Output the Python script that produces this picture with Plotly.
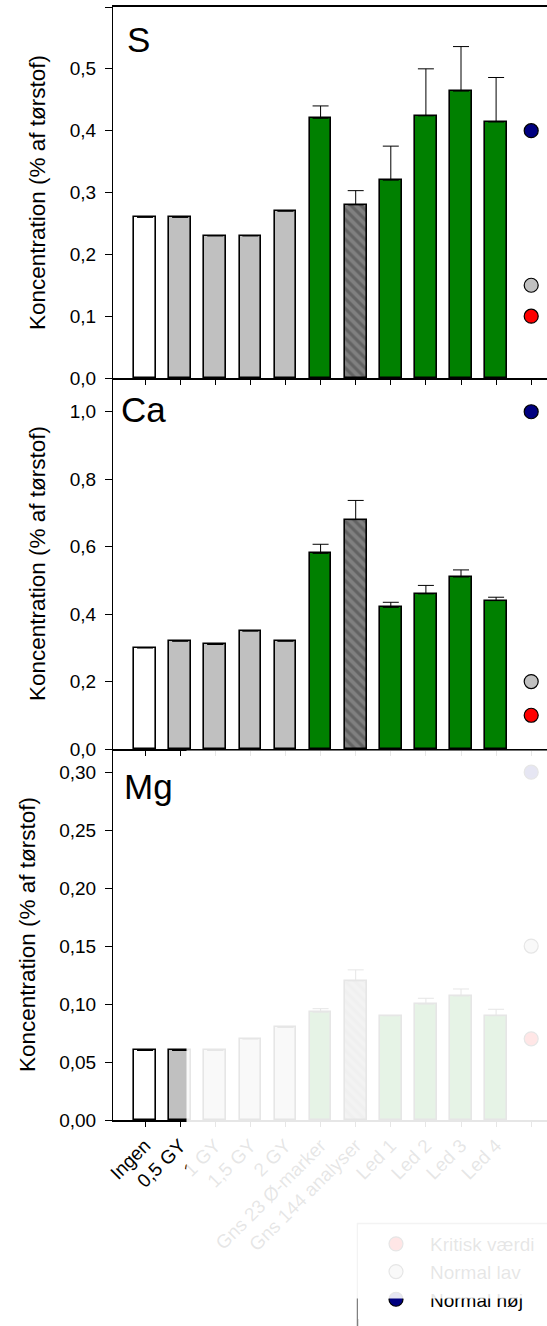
import plotly.graph_objects as go

# --- data -------------------------------------------------------------
categories = ["Ingen", "0,5 GY", "1 GY", "1,5 GY", "2 GY", "Gns 23 Ø-marker",
              "Gns 144 analyser", "Led 1", "Led 2", "Led 3", "Led 4"]
tick_labels = categories + [""]

s_values = [0.26, 0.26, 0.23, 0.23, 0.27, 0.42, 0.28, 0.32, 0.424, 0.464, 0.414]
s_err = [None, None, None, None, None, 0.020, 0.023, 0.055, 0.076, 0.072, 0.072]

ca_values = [0.30, 0.32, 0.31, 0.35, 0.32, 0.58, 0.68, 0.42, 0.46, 0.51, 0.44]
ca_err = [None, None, None, None, None, 0.027, 0.057, 0.015, 0.025, 0.021, 0.010]

mg_values = [0.06, 0.06, 0.06, 0.07, 0.08, 0.093, 0.12, 0.09, 0.10, 0.107, 0.09]
mg_err = [None, None, None, None, None, 0.003, 0.0095, None, 0.005, 0.006, 0.0055]

ref_names = ["Kritisk værdi", "Normal lav", "Normal høj"]
s_ref = [0.10, 0.15, 0.40]
ca_ref = [0.10, 0.20, 1.00]
mg_ref = [0.07, 0.15, 0.30]

# --- styling ----------------------------------------------------------
FONT = "Liberation Sans, Arial, sans-serif"
bar_colors = ["#ffffff", "#c0c0c0", "#c0c0c0", "#c0c0c0", "#c0c0c0", "#008000",
              "#808080", "#008000", "#008000", "#008000", "#008000"]
bar_patterns = ["", "", "", "", "", "", "\\", "", "", "", ""]
ref_colors = ["#ff0000", "#c0c0c0", "#000080"]
ref_x = len(categories)  # position of the reference markers

W, H = 547, 1326
ML, MR, MT, MB = 113, 0, 7, 206
PW, PH = W - ML - MR, H - MT - MB


def px_x(x):
    return (x - ML) / PW


def px_y(y):
    return (H - MB - y) / PH


fig = go.Figure()

panels = [
    ("S", s_values, s_err, s_ref, "x", "y"),
    ("Ca", ca_values, ca_err, ca_ref, "x2", "y2"),
    ("Mg", mg_values, mg_err, mg_ref, "x3", "y3"),
]

for p, (name, vals, errs, refs, xa, ya) in enumerate(panels):
    plus = [e if e is not None else float("nan") for e in errs]
    minus = [0 if e is not None else float("nan") for e in errs]
    fig.add_trace(go.Bar(
        x=list(range(len(categories))), y=vals, width=0.62,
        marker=dict(color=bar_colors, line=dict(color="black", width=1.6),
                    pattern=dict(shape=bar_patterns, fgcolor="black",
                                 fillmode="overlay", size=7, solidity=0.45)),
        error_y=dict(type="data", array=plus, arrayminus=minus, symmetric=False,
                     color="black", thickness=1, width=8),
        showlegend=False, xaxis=xa, yaxis=ya, hoverinfo="skip",
    ))
    for k in range(3):
        fig.add_trace(go.Scatter(
            x=[ref_x], y=[refs[k]], mode="markers", name=ref_names[k],
            marker=dict(size=14, color=ref_colors[k],
                        line=dict(color="black", width=1.2)),
            showlegend=(p == 0), xaxis=xa, yaxis=ya,
        ))

xcommon = dict(range=[-0.914, 11.45], showline=True, linecolor="black",
               linewidth=2, ticks="outside", ticklen=5, tickwidth=1,
               tickcolor="black", tickvals=list(range(len(tick_labels))),
               ticktext=tick_labels, showgrid=False, zeroline=False,
               tickangle=-45, tickfont=dict(size=19, color="black"))
ycommon = dict(showline=True, linecolor="black", linewidth=1, ticks="outside",
               ticklen=7, tickwidth=1, tickcolor="black", showgrid=False,
               zeroline=False, tickfont=dict(size=19, color="black"),
               ticklabelstandoff=5,
               title=dict(text="Koncentration (% af tørstof)",
                          font=dict(size=22.5, color="black"), standoff=17))

fig.update_layout(
    width=W, height=H,
    margin=dict(l=ML, r=MR, t=MT, b=MB, autoexpand=False),
    paper_bgcolor="white", plot_bgcolor="white",
    font=dict(family=FONT, color="black"),
    separators=",.",
    bargap=0,
    xaxis=dict(xcommon, anchor="y", showticklabels=False, mirror=True),
    xaxis2=dict(xcommon, anchor="y2", showticklabels=False),
    xaxis3=dict(xcommon, anchor="y3", showticklabels=True),
    yaxis=dict(ycommon, domain=[2 / 3, 1], range=[0, 0.6], dtick=0.1,
               tickformat=".1f"),
    yaxis2=dict(ycommon, domain=[1 / 3, 2 / 3], range=[0, 1.1], dtick=0.2,
                tickformat=".1f"),
    yaxis3=dict(ycommon, domain=[0, 1 / 3], range=[0, 0.32], dtick=0.05,
                tickformat=".2f"),
    legend=dict(x=px_x(358), y=px_y(1225), xanchor="left", yanchor="top",
                bgcolor="white", borderwidth=0,
                font=dict(size=19, color="black"), itemwidth=58,
                tracegroupgap=0, indentation=4),
)

# legend frame: top and left edges (the box runs on past the page bottom)
fig.add_shape(type="path", xref="paper", yref="paper",
              path=(f"M {px_x(357.5)},{px_y(H + 5)} L {px_x(357.5)},{px_y(1223.5)} "
                    f"L {px_x(W + 5)},{px_y(1223.5)}"),
              line=dict(color="#808080", width=1.5), layer="above")

# panel letters
for label, xleft, ytop in [("S", 125, 18), ("Ca", 119, 388), ("Mg", 122, 765)]:
    fig.add_annotation(text=label, xref="paper", yref="paper",
                       x=px_x(xleft), y=px_y(ytop), xanchor="left", yanchor="top",
                       showarrow=False, font=dict(size=35, color="black"))

# translucent white veil over the lower right part of the figure
fig.add_annotation(text=" ", xref="paper", yref="paper",
                   x=px_x(186), y=px_y(750), xanchor="left", yanchor="top",
                   width=W - 186, height=1297 - 750, borderpad=0,
                   bgcolor="rgba(255,255,255,0.9)", showarrow=False)

fig.write_html("out.html")
